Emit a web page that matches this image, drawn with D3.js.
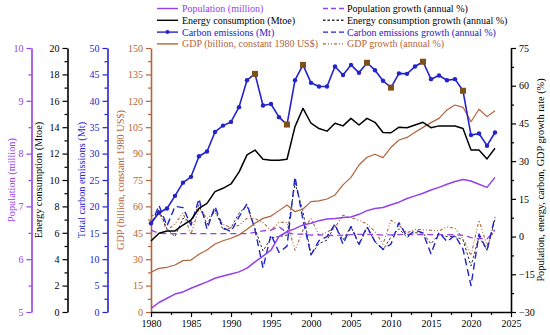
<!DOCTYPE html>
<html>
<head>
<meta charset="utf-8">
<script src="https://cdn.jsdelivr.net/npm/d3@7"></script>
<style>
  body { margin: 0; background: #fff; }
  svg { display: block; font-family: "Liberation Serif", "Times New Roman", serif; }
</style>
</head>
<body>
<svg id="chart" width="550" height="335"></svg>
<script>
const years = d3.range(1980, 2024);

// levels
const population = [5.07, 5.18, 5.26, 5.34, 5.38, 5.45, 5.51, 5.57, 5.64, 5.68, 5.72, 5.76, 5.83, 5.95, 6.06, 6.17, 6.43, 6.52, 6.58, 6.65, 6.68, 6.73, 6.76, 6.77, 6.79, 6.80, 6.85, 6.92, 6.96, 6.98, 7.03, 7.08, 7.15, 7.20, 7.25, 7.31, 7.36, 7.42, 7.47, 7.51, 7.48, 7.42, 7.36, 7.55];
const energy = [5.38, 5.96, 6.14, 6.14, 6.59, 6.97, 7.85, 8.23, 9.12, 9.37, 9.70, 10.6, 11.9, 12.27, 11.57, 11.5, 11.5, 11.57, 14.04, 15.43, 14.3, 13.9, 13.7, 14.3, 14.1, 14.67, 14.17, 14.67, 14.37, 13.6, 13.58, 14.0, 13.96, 14.17, 14.37, 13.96, 14.1, 14.09, 14.09, 13.9, 12.27, 12.27, 11.6, 12.4];
const carbon = [16.8, 18.8, 19.6, 22.0, 24.5, 25.6, 29.5, 30.4, 34.1, 35.3, 36.0, 38.8, 43.9, 45.1, 39.1, 39.4, 36.9, 35.5, 43.9, 46.8, 43.4, 42.7, 42.7, 46.5, 44.9, 46.8, 45.3, 47.2, 45.8, 43.8, 42.5, 45.2, 45.1, 46.5, 47.4, 44.1, 44.8, 43.9, 44.1, 41.9, 33.5, 33.8, 31.5, 34.0];
const gdp = [22.6, 24.8, 25.4, 26.7, 29.2, 29.5, 32.8, 35.2, 38.6, 40.5, 41.9, 43.8, 47.0, 50.4, 53.2, 54.5, 57.6, 60.8, 57.0, 58.5, 62.7, 63.1, 64.2, 66.5, 72.2, 76.5, 83.5, 87.9, 89.6, 87.7, 93.6, 97.7, 99.2, 102.1, 104.9, 107.6, 110.0, 114.8, 117.6, 116.3, 108.1, 115.2, 111.0, 114.4];
const carbonMarked = [1993, 1997, 1999, 2007, 2010, 2014, 2019];

// annual growth (%)
const popGrowth = [2.6, 1.3, 1.2, 1.2, 1.2, 1.2, 1.2, 1.2, 1.2, 1.2, 1.2, 1.2, 1.2, 1.7, 2.3, 2.6, 3.9, 1.5, 1.0, 1.0, 0.6, 0.7, 0.5, 0.4, 0.6, 0.8, 0.9, 0.9, 0.8, 0.6, 0.7, 0.8, 0.9, 0.8, 0.8, 0.8, 0.8, 0.8, 0.7, 0.5, -0.4, -0.8, -0.9, 2.6];
const energyGrowth = [5.0, 10.8, 3.0, 0.0, 7.3, 5.8, 12.6, 4.8, 10.8, 2.7, 3.5, 9.3, 12.3, 3.1, -5.7, -0.6, 0.0, 0.6, 21.3, 9.9, -7.3, -2.8, -1.4, 4.4, -1.4, 4.0, -3.4, 3.5, -2.0, -5.4, -0.1, 3.1, -0.3, 1.5, 1.4, -2.9, 1.0, 0.0, 0.0, -1.3, -11.7, 0.0, -5.5, 6.9];
const carbonGrowth = [4.5, 12.4, 4.3, 12.0, 11.5, 4.5, 15.0, 3.0, 12.0, 3.5, 2.0, 7.8, 13.0, 2.7, -12.5, 0.8, -6.3, -3.8, 23.7, 6.6, -7.3, -1.6, 0.0, 5.0, -3.0, 4.0, -3.0, 4.0, -2.0, -5.0, -3.0, 5.5, 0.0, 2.5, 1.5, -6.8, 1.6, -2.0, 0.5, -5.0, -19.5, 1.0, -5.5, 7.8];
const gdpGrowth = [8.0, 9.7, 2.4, 5.1, 9.4, 1.0, 11.2, 7.3, 9.7, 4.9, 3.5, 4.5, 7.3, 7.2, 5.6, 2.4, 5.7, 5.6, -5.5, 2.6, 7.2, 0.6, 1.7, 3.6, 8.5, 7.5, 6.5, 5.0, 2.0, -3.0, 6.5, 4.5, 1.5, 2.9, 2.7, 2.5, 2.3, 3.8, 3.3, -0.8, -7.5, 6.5, -3.5, 3.2];

const xTicks = d3.range(1980, 2026, 5);
const popTicks = [5, 6, 7, 8, 9, 10];
const energyTicks = d3.range(0, 21, 2);
const carbonTicks = d3.range(0, 51, 5);
const gdpTicks = d3.range(0, 151, 15);
const rateTicks = d3.range(-30, 76, 15);

const PURPLE = '#9440ee';
const BLUE = '#2323cc';
const BROWN = '#b4633a';
const SQUARE = '#80501c';

const TOP = 48, BOTTOM = 312, LEFT = 151, RIGHT = 511;

const svg = d3.select('#chart');

const x = d3.scaleLinear().domain([1980, 2025]).range([LEFT, RIGHT]);
const yPop = d3.scaleLinear().domain([5, 10]).range([BOTTOM, TOP]);
const yEnergy = d3.scaleLinear().domain([0, 20]).range([BOTTOM, TOP]);
const yCarbon = d3.scaleLinear().domain([0, 50]).range([BOTTOM, TOP]);
const yGdp = d3.scaleLinear().domain([0, 150]).range([BOTTOM, TOP]);
const yRate = d3.scaleLinear().domain([-30, 75]).range([BOTTOM, TOP]);

// draws an axis with labelled major ticks and short minor ticks
function drawAxis(axisFn, scale, major, minorStep, color, transform) {
    const g = svg.append('g').attr('transform', transform);
    const [d0, d1] = scale.domain();
    const minor = d3.range(d0, d1 + minorStep / 2, minorStep)
        .filter((v) => !major.some((m) => Math.abs(m - v) < 1e-6));
    g.call(axisFn(scale).tickValues(minor).tickSize(3).tickSizeOuter(0).tickFormat(''));
    g.select('.domain').remove();
    const gm = svg.append('g').attr('transform', transform);
    gm.call(axisFn(scale).tickValues(major).tickSize(5).tickSizeOuter(0).tickPadding(3)
        .tickFormat((d) => d < 0 ? '\u2212' + Math.abs(d) : d));
    gm.select('.domain').attr('stroke-width', 1.6);
    [g, gm].forEach((s) => {
        s.selectAll('line').attr('stroke', color).attr('stroke-width', 1.2);
        s.select('.domain').attr('stroke', color);
        s.selectAll('text').attr('fill', color).style('font-size', '10px')
            .style('font-family', '"Liberation Serif", "Times New Roman", serif');
    });
    return gm;
}

drawAxis(d3.axisLeft, yPop, popTicks, 0.5, PURPLE, 'translate(31.5,0)');
drawAxis(d3.axisLeft, yEnergy, energyTicks, 1, '#000', 'translate(67.5,0)');
drawAxis(d3.axisLeft, yCarbon, carbonTicks, 2.5, BLUE, 'translate(107.5,0)');
drawAxis(d3.axisLeft, yGdp, gdpTicks, 7.5, BROWN, `translate(${LEFT},0)`);
drawAxis(d3.axisRight, yRate, rateTicks, 7.5, '#000', `translate(${RIGHT},0)`);
drawAxis(d3.axisBottom, x, xTicks, 2.5, '#000', `translate(0,${BOTTOM})`);

// axis titles
const titles = [
    { text: 'Population (million)', x: 14.5, color: PURPLE },
    { text: 'Energy consumption (Mtoe)', x: 42, color: '#000' },
    { text: 'Total carbon emissions (Mt)', x: 84.5, color: BLUE },
    { text: 'GDP (billion, constant 1980 US$)', x: 124, color: BROWN },
    { text: 'Population, energy, carbon, GDP growth rate (%)', x: 543.5, color: '#000' }
];
titles.forEach((t) => {
    svg.append('text')
        .attr('transform', `translate(${t.x},${(TOP + BOTTOM) / 2}) rotate(-90)`)
        .attr('text-anchor', 'middle')
        .attr('fill', t.color)
        .style('font-size', '10.3px')
        .text(t.text);
});

const plot = svg.append('g');

function addLine(values, y, color, width, dash) {
    const line = d3.line().x((d, i) => x(years[i])).y((d) => y(d));
    plot.append('path')
        .datum(values)
        .attr('d', line)
        .attr('fill', 'none')
        .attr('stroke', color)
        .attr('stroke-width', width)
        .attr('stroke-linejoin', 'round')
        .attr('stroke-dasharray', dash || null);
}

// growth lines
addLine(gdpGrowth, yRate, BROWN, 1.1, '3,2,1,2,1,2');
addLine(energyGrowth, yRate, '#333', 1, '2.5,2');
addLine(popGrowth, yRate, PURPLE, 1.3, '6,4');
addLine(carbonGrowth, yRate, BLUE, 1.4, '7,4');

// level lines
addLine(gdp, yGdp, BROWN, 1.2);
addLine(population, yPop, PURPLE, 1.5);
addLine(energy, yEnergy, '#000', 1.5);
addLine(carbon, yCarbon, BLUE, 1.6);

plot.selectAll('circle.c')
    .data(years.filter((yr) => !carbonMarked.includes(yr)))
    .join('circle')
    .attr('cx', (yr) => x(yr))
    .attr('cy', (yr) => yCarbon(carbon[years.indexOf(yr)]))
    .attr('r', 2.2)
    .attr('fill', BLUE);

plot.selectAll('rect.m')
    .data(carbonMarked)
    .join('rect')
    .attr('x', (yr) => x(yr) - 3)
    .attr('y', (yr) => yCarbon(carbon[years.indexOf(yr)]) - 3)
    .attr('width', 6)
    .attr('height', 6)
    .attr('fill', SQUARE);

// legend
const legendLeft = [
    { text: 'Population (million)', color: PURPLE, dash: null, dot: false },
    { text: 'Energy consumption (Mtoe)', color: '#000', dash: null, dot: false },
    { text: 'Carbon emissions (Mt)', color: BLUE, dash: null, dot: true },
    { text: 'GDP (billion, constant 1980 US$)', color: BROWN, dash: null, dot: false }
];
const legendRight = [
    { text: 'Population growth (annual %)', color: PURPLE, dash: '5,3', textColor: '#000' },
    { text: 'Energy consumption growth (annual %)', color: '#333', dash: '2.5,2', textColor: '#000' },
    { text: 'Carbon emissions growth (annual %)', color: BLUE, dash: '5,3', textColor: BLUE },
    { text: 'GDP growth (annual %)', color: BROWN, dash: '3,2,1,2,1,2', textColor: BROWN }
];

function drawLegend(items, x0, x1, tx) {
    items.forEach((it, i) => {
        const yy = 8.5 + i * 11.8;
        svg.append('line')
            .attr('x1', x0).attr('x2', x1).attr('y1', yy).attr('y2', yy)
            .attr('stroke', it.color).attr('stroke-width', 1.4)
            .attr('stroke-dasharray', it.dash);
        if (it.dot) {
            svg.append('circle').attr('cx', (x0 + x1) / 2).attr('cy', yy).attr('r', 2).attr('fill', it.color);
        }
        svg.append('text')
            .attr('x', tx).attr('y', yy + 3.5)
            .attr('fill', it.textColor || it.color)
            .style('font-size', '10px')
            .text(it.text);
    });
}
drawLegend(legendLeft, 157, 178, 182);
drawLegend(legendRight, 323, 345, 347);
</script>
</body>
</html>
